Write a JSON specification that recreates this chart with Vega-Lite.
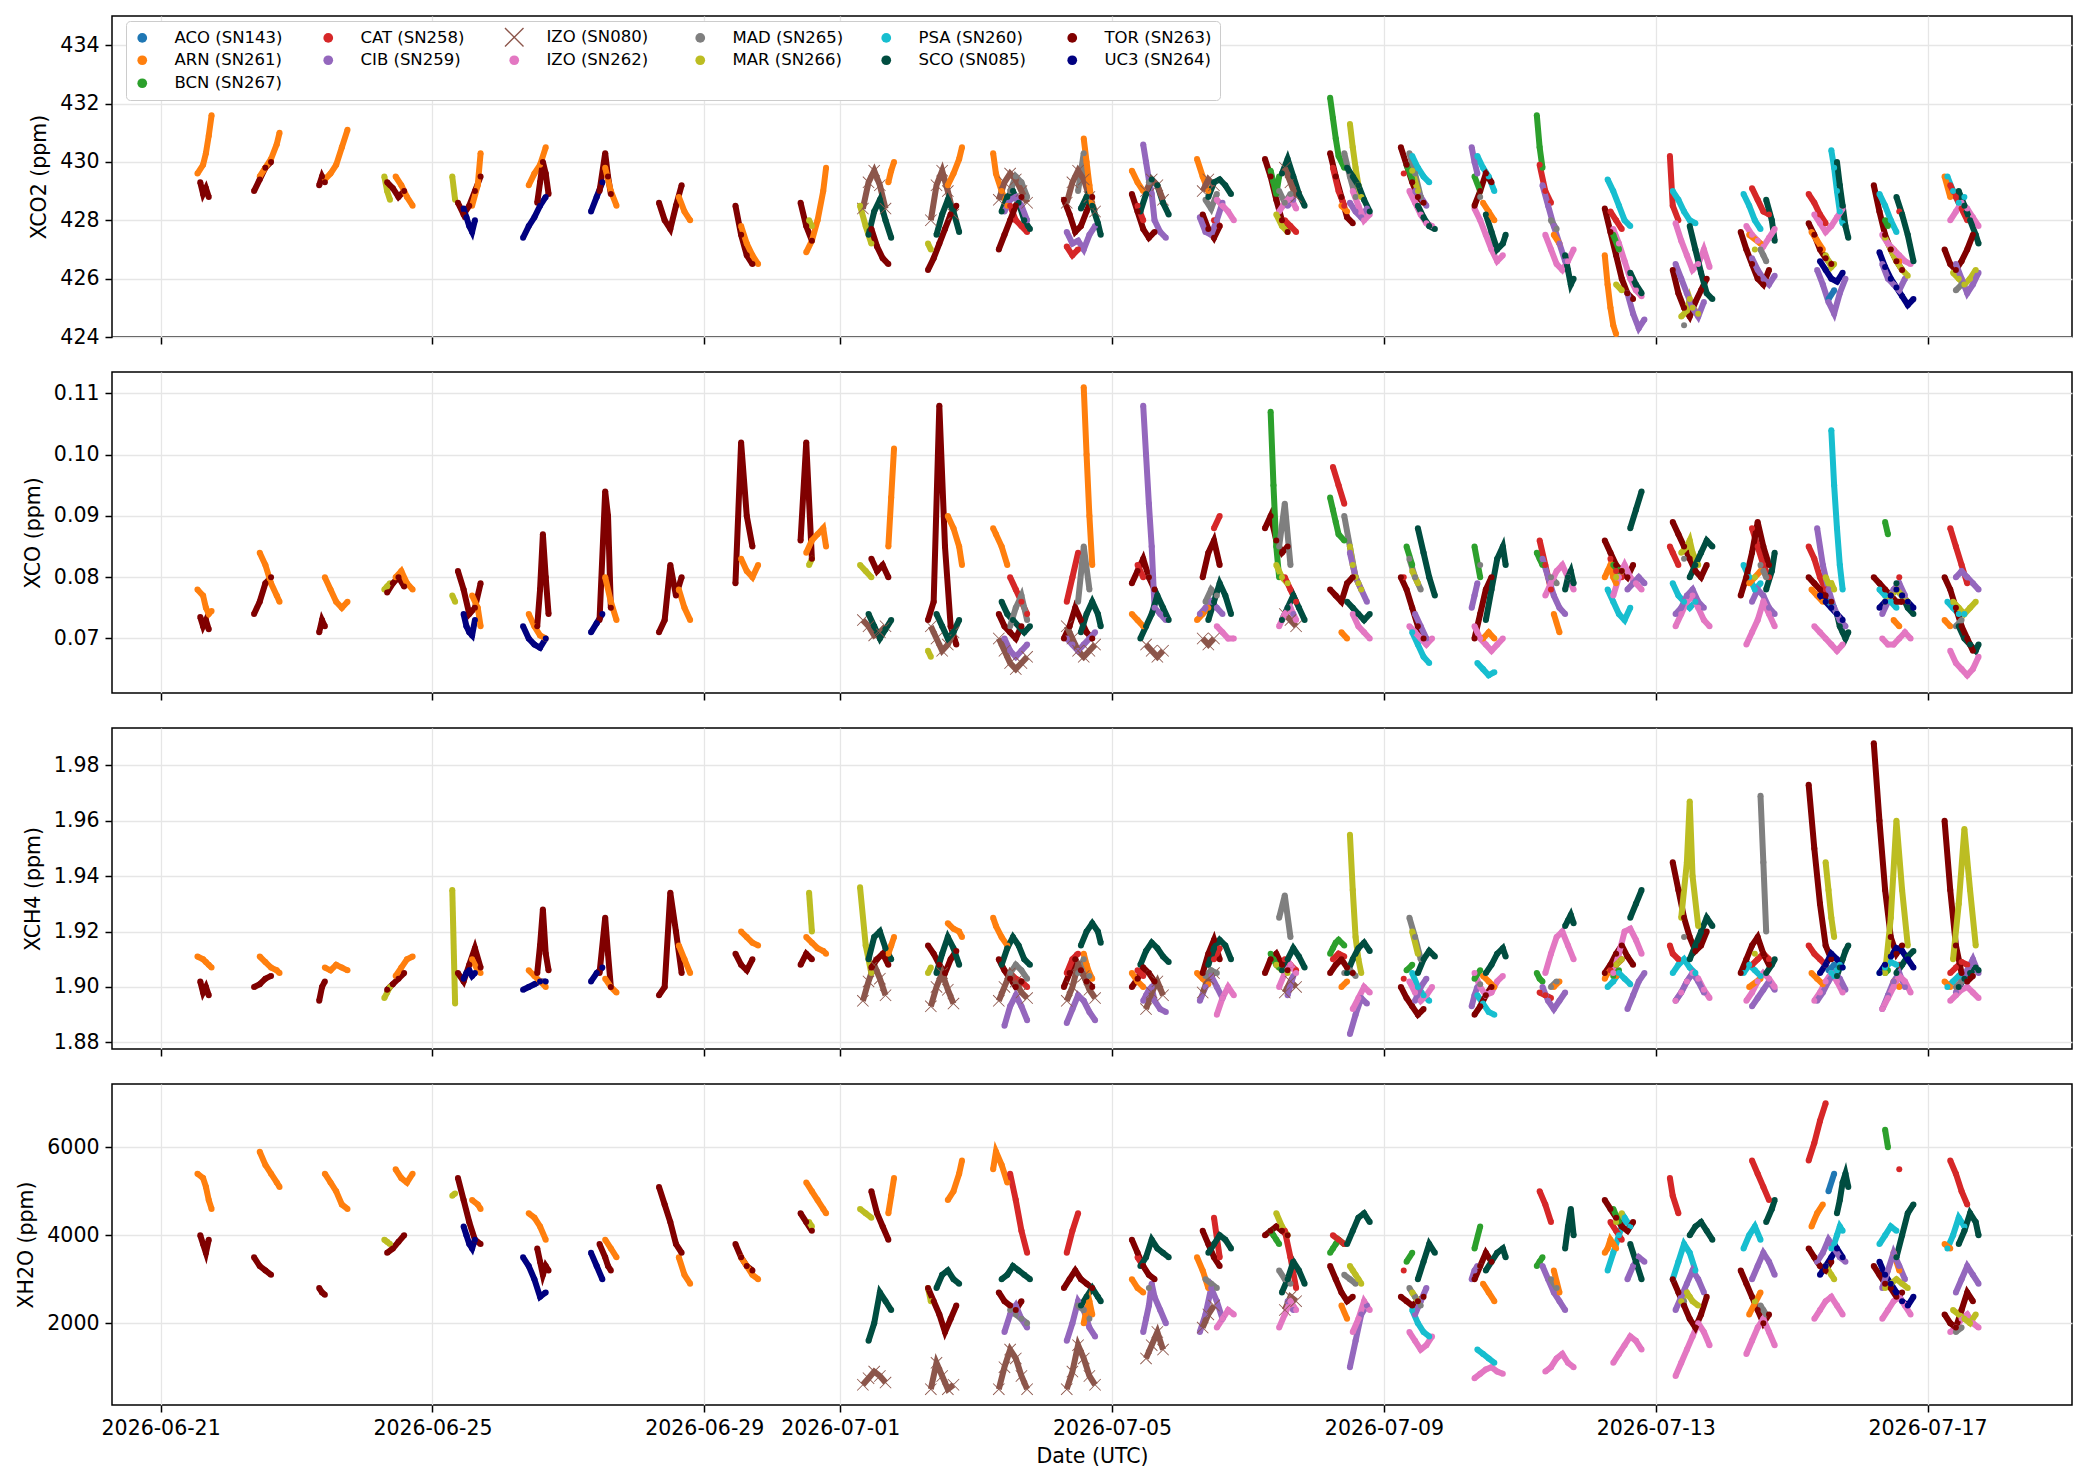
{
  "$schema": "https://vega.github.io/schema/vega-lite/v6.json",
  "background": "white",
  "padding": {"left": 16, "top": 15, "right": 15, "bottom": 8},
  "data": {
    "values": "t,s,a,b,c,h\n26062114,TOR,429.3,.0735,1.902,4000\n26062115,TOR,428.9,.072,1.898,3800\n26062116,TOR,429.1,.073,1.900,3600\n26062117,TOR,428.8,.0715,1.897,3900\n26062113,ARN,429.6,.078,1.911,5400\n26062115,ARN,429.9,.077,1.910,5300\n26062116,ARN,430.3,.075,1.909,5100\n26062117,ARN,430.9,.074,1.908,4800\n26062118,ARN,431.6,.0745,1.907,4600\n26062209,TOR,429.0,.074,1.900,3500\n26062211,TOR,429.4,.076,1.901,3300\n26062213,TOR,429.8,.079,1.903,3200\n26062215,TOR,430.0,.080,1.904,3100\n26062211,ARN,429.5,.084,1.911,5900\n26062213,ARN,429.8,.082,1.909,5600\n26062215,ARN,430.1,.079,1.907,5400\n26062217,ARN,430.6,.077,1.906,5200\n26062218,ARN,431.0,.076,1.905,5100\n26062308,TOR,429.2,.071,1.895,2800\n26062309,TOR,429.5,.073,1.900,2700\n26062310,TOR,429.3,.072,1.902,2650\n26062310,ARN,429.4,.080,1.907,5400\n26062312,ARN,429.6,.078,1.906,5200\n26062314,ARN,429.9,.076,1.908,5000\n26062316,ARN,430.5,.075,1.907,4700\n26062318,ARN,431.1,.076,1.906,4600\n26062407,MAR,429.5,.078,1.896,3900\n26062408,MAR,429.0,.0785,1.898,3850\n26062409,MAR,428.7,.079,1.900,3800\n26062408,TOR,429.3,.0775,1.899,3600\n26062410,TOR,429.1,.079,1.901,3700\n26062412,TOR,428.8,.080,1.903,3850\n26062414,TOR,429.0,.0785,1.905,4000\n26062411,ARN,429.5,.080,1.904,5500\n26062413,ARN,429.2,.081,1.907,5300\n26062415,ARN,428.8,.079,1.910,5200\n26062417,ARN,428.5,.078,1.911,5400\n26062507,MAR,429.5,.077,1.935,4900\n26062508,MAR,428.7,.076,1.894,4950\n26062509,TOR,428.6,.081,1.905,5300\n26062511,TOR,428.2,.078,1.902,4800\n26062513,TOR,428.5,.074,1.908,4300\n26062515,TOR,429.0,.075,1.914,3900\n26062517,TOR,429.5,.079,1.907,3800\n26062511,UC3,428.4,.074,1.903,4200\n26062512,UC3,428.1,.072,1.905,4000\n26062513,UC3,427.8,.071,1.906,3800\n26062514,UC3,427.6,.0705,1.904,3700\n26062515,UC3,428.0,.073,1.905,3900\n26062514,ARN,428.5,.077,1.910,4800\n26062516,ARN,429.2,.075,1.906,4700\n26062517,ARN,430.3,.072,1.905,4600\n26062608,UC3,427.4,.072,1.899,3500\n26062610,UC3,427.8,.070,1.900,3300\n26062612,UC3,428.1,.069,1.901,3000\n26062614,UC3,428.5,.0685,1.902,2600\n26062616,UC3,428.8,.070,1.902,2700\n26062610,ARN,429.2,.074,1.906,4500\n26062612,ARN,429.6,.072,1.904,4400\n26062614,ARN,429.9,.0705,1.902,4200\n26062616,ARN,430.5,.070,1.900,3900\n26062613,TOR,428.6,.072,1.905,3700\n26062614,TOR,429.3,.078,1.915,3400\n26062615,TOR,430.0,.087,1.928,3100\n26062616,TOR,429.6,.080,1.912,3300\n26062617,TOR,428.9,.074,1.906,3200\n26062708,UC3,428.3,.071,1.902,3600\n26062710,UC3,428.8,.0725,1.905,3300\n26062712,UC3,429.3,.074,1.907,3000\n26062711,TOR,429.0,.073,1.905,3800\n26062713,TOR,430.3,.094,1.925,3500\n26062714,TOR,429.5,.090,1.912,3300\n26062715,TOR,428.9,.075,1.900,3200\n26062713,ARN,429.8,.080,1.903,3900\n26062715,ARN,429.0,.076,1.900,3700\n26062717,ARN,428.5,.073,1.898,3500\n26062808,TOR,428.6,.071,1.897,5100\n26062810,TOR,428.0,.073,1.900,4700\n26062812,TOR,427.7,.082,1.934,4300\n26062814,TOR,428.5,.077,1.920,3800\n26062816,TOR,429.2,.080,1.905,3600\n26062815,ARN,428.8,.078,1.915,3500\n26062817,ARN,428.3,.075,1.910,3100\n26062819,ARN,428.0,.073,1.905,2900\n26062911,TOR,428.5,.079,1.912,3800\n26062913,TOR,427.5,.102,1.908,3500\n26062915,TOR,426.8,.090,1.906,3300\n26062917,TOR,426.5,.085,1.910,3200\n26062913,ARN,427.8,.083,1.920,3500\n26062915,ARN,427.2,.081,1.918,3300\n26062917,ARN,426.8,.080,1.916,3100\n26062919,ARN,426.5,.082,1.915,3000\n26063010,TOR,428.6,.086,1.908,4500\n26063012,TOR,427.8,.102,1.912,4300\n26063014,TOR,427.3,.083,1.910,4100\n26063013,MAR,428.0,.082,1.934,4300\n26063014,MAR,427.8,.083,1.920,4200\n26063012,ARN,426.9,.084,1.918,5200\n26063014,ARN,427.3,.086,1.916,5000\n26063016,ARN,428.0,.087,1.914,4800\n26063018,ARN,429.0,.088,1.913,4600\n26063019,ARN,429.8,.085,1.912,4500\n26070107,MAR,428.5,.082,1.936,4600\n26070109,MAR,427.8,.081,1.915,4500\n26070111,MAR,427.2,.080,1.905,4400\n26070108,IZ8,428.4,.073,1.895,600\n26070110,IZ8,429.3,.072,1.902,750\n26070112,IZ8,429.7,.0705,1.908,900\n26070114,IZ8,429.2,.071,1.903,800\n26070116,IZ8,428.4,.072,1.897,650\n26070110,SCO,427.5,.074,1.910,1600\n26070112,SCO,428.3,.072,1.918,2000\n26070114,SCO,428.7,.070,1.920,2700\n26070116,SCO,428.0,.0715,1.914,2500\n26070118,SCO,427.4,.073,1.910,2300\n26070111,TOR,427.7,.083,1.907,5000\n26070113,TOR,427.1,.081,1.910,4500\n26070115,TOR,426.7,.082,1.912,4200\n26070117,TOR,426.5,.080,1.908,3900\n26070117,ARN,429.3,.085,1.912,4500\n26070118,ARN,429.7,.093,1.915,4900\n26070119,ARN,430.0,.101,1.918,5300\n26070207,MAR,427.2,.068,1.905,2800\n26070208,MAR,427.0,.067,1.907,2500\n26070207,TOR,426.3,.073,1.915,2800\n26070209,TOR,426.7,.076,1.912,2500\n26070211,TOR,427.2,.108,1.908,2200\n26070213,TOR,427.7,.085,1.905,1800\n26070215,TOR,428.2,.072,1.910,2100\n26070217,TOR,428.5,.069,1.913,2400\n26070208,IZ8,428.0,.072,1.893,500\n26070210,IZ8,429.2,.070,1.900,1100\n26070212,IZ8,429.7,.068,1.905,800\n26070214,IZ8,429.0,.069,1.899,500\n26070216,IZ8,428.2,.071,1.894,600\n26070210,SCO,427.5,.074,1.905,2800\n26070212,SCO,428.2,.072,1.912,3100\n26070214,SCO,428.7,.070,1.918,3200\n26070216,SCO,428.3,.071,1.914,3000\n26070218,SCO,427.6,.073,1.908,2900\n26070214,ARN,429.2,.090,1.923,4800\n26070216,ARN,429.6,.088,1.921,5000\n26070218,ARN,430.1,.085,1.920,5400\n26070219,ARN,430.5,.082,1.918,5700\n26070306,ARN,430.3,.088,1.925,5500\n26070307,ARN,429.6,.087,1.922,5900\n26070309,ARN,429.0,.085,1.918,5600\n26070311,ARN,428.5,.082,1.915,5200\n26070312,CAT,428.5,.080,1.905,5400\n26070314,CAT,428.0,.078,1.903,4800\n26070316,CAT,427.8,.076,1.902,4100\n26070318,CAT,427.6,.074,1.900,3600\n26070308,TOR,427.0,.074,1.910,2700\n26070310,TOR,427.5,.072,1.906,2500\n26070312,TOR,428.0,.071,1.903,2400\n26070314,TOR,428.5,.070,1.900,2300\n26070316,TOR,428.8,.072,1.902,2500\n26070309,SCO,428.3,.076,1.908,3000\n26070311,SCO,428.8,.074,1.914,3100\n26070313,SCO,429.0,.073,1.918,3300\n26070315,SCO,428.6,.072,1.915,3200\n26070317,SCO,428.0,.071,1.910,3100\n26070319,SCO,427.7,.072,1.908,3000\n26070312,MAD,429.0,.072,1.905,2300\n26070314,MAD,429.5,.075,1.908,2200\n26070316,MAD,429.3,.077,1.906,2100\n26070318,MAD,428.8,.073,1.903,2000\n26070310,CIB,428.3,.070,1.886,1800\n26070312,CIB,428.7,.068,1.893,2200\n26070314,CIB,428.8,.067,1.897,2400\n26070316,CIB,428.5,.068,1.893,2100\n26070318,CIB,428.0,.069,1.888,1900\n26070308,IZ8,428.7,.070,1.895,500\n26070310,IZ8,429.3,.068,1.900,1000\n26070312,IZ8,429.6,.066,1.905,1400\n26070314,IZ8,429.4,.065,1.902,1200\n26070316,IZ8,429.0,.066,1.898,800\n26070318,IZ8,428.6,.067,1.896,500\n26070407,TOR,428.7,.070,1.900,2800\n26070409,TOR,428.2,.072,1.905,3000\n26070411,TOR,427.6,.075,1.910,3200\n26070413,TOR,427.8,.073,1.906,3000\n26070415,TOR,428.3,.071,1.902,2900\n26070417,TOR,428.8,.070,1.900,2800\n26070408,CIB,427.6,.070,1.887,1600\n26070410,CIB,427.2,.069,1.892,2000\n26070412,CIB,427.3,.068,1.897,2500\n26070414,CIB,427.0,.069,1.895,2300\n26070416,CIB,427.5,.070,1.891,1900\n26070418,CIB,427.8,.071,1.888,1700\n26070408,CAT,427.1,.076,1.905,3600\n26070410,CAT,426.8,.080,1.910,4100\n26070412,CAT,427.0,.084,1.912,4500\n26070412,MAD,429.0,.076,1.905,2400\n26070414,MAD,430.3,.085,1.910,2300\n26070416,MAD,428.8,.078,1.904,2100\n26070408,IZ8,428.6,.072,1.895,500\n26070410,IZ8,429.3,.070,1.900,900\n26070412,IZ8,429.7,.068,1.908,1500\n26070414,IZ8,429.4,.067,1.904,1200\n26070416,IZ8,428.8,.068,1.899,800\n26070418,IZ8,428.3,.069,1.896,600\n26070413,SCO,428.4,.071,1.915,2400\n26070415,SCO,428.8,.074,1.920,2600\n26070417,SCO,428.5,.076,1.923,2800\n26070419,SCO,427.9,.074,1.920,2600\n26070420,SCO,427.5,.072,1.916,2500\n26070414,ARN,430.8,.111,1.912,2000\n26070415,ARN,430.0,.100,1.908,2300\n26070416,ARN,429.2,.090,1.905,2500\n26070417,ARN,428.5,.082,1.903,2200\n26070507,TOR,428.9,.079,1.900,3900\n26070509,TOR,428.3,.081,1.903,3600\n26070511,TOR,427.7,.083,1.907,3300\n26070513,TOR,427.4,.080,1.905,3100\n26070515,TOR,427.6,.078,1.902,3000\n26070507,ARN,429.7,.074,1.905,3000\n26070509,ARN,429.3,.073,1.902,2800\n26070511,ARN,429.0,.072,1.900,2700\n26070509,CAT,428.5,.082,1.906,3500\n26070511,CAT,428.0,.080,1.904,3300\n26070511,CIB,430.6,.108,1.895,1800\n26070512,CIB,430.0,.100,1.897,2100\n26070513,CIB,429.4,.092,1.899,2400\n26070514,CIB,428.9,.085,1.900,2900\n26070515,CIB,428.0,.075,1.895,2600\n26070517,CIB,427.6,.074,1.892,2300\n26070519,CIB,427.4,.073,1.891,2000\n26070510,SCO,428.3,.070,1.908,3300\n26070512,SCO,428.9,.072,1.913,3500\n26070514,SCO,429.4,.074,1.916,3900\n26070516,SCO,429.2,.077,1.914,3700\n26070518,SCO,428.6,.075,1.911,3600\n26070520,SCO,428.2,.073,1.909,3500\n26070512,IZ8,429.0,.069,1.892,1200\n26070514,IZ8,429.4,.068,1.898,1500\n26070516,IZ8,429.2,.067,1.902,1800\n26070518,IZ8,428.7,.068,1.897,1400\n26070513,MAD,429.3,.080,1.905,2800\n26070606,ARN,430.1,.073,1.905,3500\n26070608,ARN,429.5,.074,1.903,3200\n26070610,ARN,429.0,.075,1.901,2800\n26070608,TOR,428.2,.080,1.905,4100\n26070610,TOR,427.7,.084,1.912,3800\n26070612,TOR,427.4,.086,1.917,3500\n26070614,TOR,427.8,.082,1.910,3300\n26070612,CAT,428.0,.088,1.910,4400\n26070614,CAT,427.8,.090,1.914,3500\n26070609,MAD,428.7,.076,1.904,3000\n26070611,MAD,428.4,.078,1.906,2900\n26070613,MAD,428.9,.077,1.905,2800\n26070607,CIB,428.1,.074,1.895,1800\n26070609,CIB,427.6,.075,1.900,2200\n26070611,CIB,427.5,.076,1.904,2800\n26070613,CIB,428.0,.075,1.900,2500\n26070615,CIB,428.6,.074,1.896,2100\n26070610,SCO,428.8,.073,1.908,3600\n26070612,SCO,429.3,.076,1.914,3800\n26070614,SCO,429.4,.079,1.917,4000\n26070616,SCO,429.2,.077,1.915,3900\n26070618,SCO,428.9,.074,1.910,3700\n26070613,IZO,428.7,.072,1.890,1900\n26070615,IZO,428.5,.071,1.896,2100\n26070617,IZO,428.3,.070,1.900,2300\n26070619,IZO,428.0,.070,1.897,2200\n26070608,IZ8,429.0,.070,1.898,1900\n26070610,IZ8,429.4,.069,1.903,2200\n26070612,IZ8,429.2,.070,1.905,2400\n26070706,TOR,430.1,.088,1.905,4000\n26070708,TOR,429.5,.090,1.910,4100\n26070710,TOR,428.7,.086,1.912,4200\n26070712,TOR,428.0,.084,1.908,4100\n26070714,TOR,427.6,.085,1.906,4000\n26070708,BCN,429.7,.107,1.912,4100\n26070709,BCN,429.3,.095,1.910,4000\n26070710,BCN,428.9,.085,1.908,3900\n26070711,BCN,429.5,.080,1.907,3800\n26070710,MAR,428.2,.082,1.908,4500\n26070712,MAR,427.8,.080,1.906,4200\n26070714,MAR,427.6,.079,1.905,4000\n26070713,CAT,428.0,.080,1.910,4100\n26070715,CAT,427.8,.078,1.908,3500\n26070717,CAT,427.6,.076,1.906,2800\n26070711,MAD,429.0,.085,1.925,3200\n26070713,MAD,428.6,.092,1.933,3000\n26070715,MAD,428.9,.082,1.918,2900\n26070712,SCO,429.6,.073,1.906,2700\n26070714,SCO,430.1,.075,1.910,3000\n26070716,SCO,429.5,.077,1.914,3400\n26070718,SCO,428.9,.075,1.911,3200\n26070720,SCO,428.5,.073,1.907,2900\n26070713,IZ8,429.8,.074,1.898,2300\n26070715,IZ8,429.3,.073,1.902,2600\n26070717,IZ8,428.8,.072,1.900,2500\n26070714,CIB,428.5,.075,1.897,2500\n26070716,CIB,428.7,.074,1.904,2300\n26070711,IZO,428.3,.072,1.900,1900\n26070713,IZO,428.6,.074,1.905,2200\n26070715,IZO,428.8,.075,1.908,2500\n26070717,IZO,428.4,.073,1.905,2300\n26070805,BCN,432.2,.093,1.912,3600\n26070806,BCN,431.5,.091,1.914,3700\n26070807,BCN,430.8,.089,1.916,3800\n26070808,BCN,430.2,.087,1.917,3900\n26070810,BCN,429.8,.086,1.915,3800\n26070805,TOR,430.3,.078,1.905,3300\n26070807,TOR,429.5,.077,1.908,3000\n26070809,TOR,428.8,.076,1.910,2700\n26070811,TOR,428.1,.079,1.907,2500\n26070813,TOR,427.9,.080,1.905,2600\n26070806,CAT,429.8,.098,1.910,4000\n26070808,CAT,429.0,.095,1.912,3900\n26070810,CAT,428.5,.092,1.911,3800\n26070810,MAD,430.3,.090,1.905,3100\n26070812,MAD,429.5,.085,1.906,3000\n26070814,MAD,428.8,.080,1.904,2900\n26070812,MAR,431.3,.085,1.955,3300\n26070813,MAR,430.5,.082,1.935,3200\n26070814,MAR,429.8,.080,1.918,3100\n26070815,MAR,429.2,.079,1.910,3000\n26070816,MAR,428.8,.078,1.905,2900\n26070811,SCO,429.8,.076,1.905,3800\n26070813,SCO,429.5,.075,1.910,4100\n26070815,SCO,429.2,.074,1.914,4400\n26070817,SCO,428.7,.073,1.916,4500\n26070819,SCO,428.3,.074,1.913,4300\n26070812,CIB,428.6,.084,1.883,1000\n26070814,CIB,428.3,.080,1.890,1600\n26070816,CIB,428.1,.078,1.896,2200\n26070818,CIB,428.4,.076,1.894,2400\n26070813,IZO,429.0,.074,1.892,1800\n26070815,IZO,428.5,.072,1.896,2100\n26070817,IZO,428.0,.071,1.900,2500\n26070819,IZO,428.2,.070,1.898,2300\n26070809,ARN,428.5,.071,1.900,2400\n26070811,ARN,428.3,.070,1.902,2100\n26070906,TOR,430.5,.080,1.900,2600\n26070908,TOR,429.9,.078,1.896,2500\n26070910,TOR,429.3,.075,1.893,2400\n26070912,TOR,428.8,.072,1.890,2500\n26070914,TOR,428.6,.070,1.892,2600\n26070909,MAD,430.3,.083,1.925,2800\n26070911,MAD,429.6,.080,1.918,2600\n26070913,MAD,428.8,.078,1.910,2400\n26070910,MAR,429.7,.081,1.920,2700\n26070912,MAR,429.0,.079,1.912,2500\n26070910,PSA,430.2,.071,1.905,2300\n26070912,PSA,429.8,.069,1.900,2000\n26070914,PSA,429.5,.067,1.897,1800\n26070916,PSA,429.3,.066,1.895,1700\n26070909,IZO,429.0,.072,1.902,1800\n26070911,IZO,428.6,.071,1.898,1600\n26070913,IZO,428.2,.070,1.895,1400\n26070915,IZO,427.9,.069,1.897,1500\n26070917,IZO,427.8,.070,1.900,1700\n26070912,SCO,428.5,.088,1.905,3000\n26070914,SCO,428.1,.084,1.910,3400\n26070916,SCO,427.8,.080,1.913,3800\n26070918,SCO,427.7,.077,1.911,3600\n26070908,BCN,429.9,.085,1.906,3400\n26070910,BCN,429.4,.082,1.908,3600\n26070911,CIB,429.0,.074,1.895,2200\n26070913,CIB,428.8,.072,1.900,2500\n26070915,CIB,428.5,.070,1.903,2800\n26070907,CAT,429.6,.080,1.903,3200\n26071007,CIB,430.5,.075,1.893,3000\n26071008,CIB,430.0,.077,1.897,3200\n26071009,CIB,429.6,.079,1.900,3300\n26071009,PSA,430.2,.066,1.897,1400\n26071011,PSA,429.8,.065,1.894,1300\n26071013,PSA,429.5,.064,1.891,1200\n26071015,PSA,429.0,.0645,1.890,1100\n26071008,TOR,428.5,.070,1.890,3000\n26071010,TOR,429.0,.074,1.893,3300\n26071012,TOR,429.6,.078,1.897,3600\n26071014,TOR,429.3,.080,1.900,3400\n26071008,IZO,428.4,.072,1.905,750\n26071010,IZO,428.0,.070,1.900,850\n26071012,IZO,427.5,.069,1.897,950\n26071014,IZO,427.0,.068,1.898,1000\n26071016,IZO,426.6,.069,1.902,900\n26071018,IZO,426.8,.070,1.904,850\n26071012,SCO,428.2,.073,1.905,3200\n26071014,SCO,427.6,.078,1.908,3400\n26071016,SCO,427.0,.083,1.912,3600\n26071018,SCO,427.2,.085,1.914,3700\n26071019,SCO,427.5,.082,1.911,3500\n26071008,BCN,429.5,.085,1.903,3700\n26071010,BCN,429.0,.080,1.906,4200\n26071011,ARN,428.6,.070,1.904,2900\n26071013,ARN,428.3,.071,1.902,2700\n26071015,ARN,428.0,.070,1.900,2500\n26071010,MAD,428.8,.082,1.901,3300\n26071106,BCN,431.6,.084,1.905,3300\n26071107,BCN,430.5,.083,1.903,3400\n26071108,BCN,429.8,.082,1.902,3500\n26071107,CAT,429.9,.086,1.898,5000\n26071109,CAT,429.0,.082,1.897,4700\n26071111,CAT,428.6,.078,1.896,4300\n26071108,CIB,429.2,.083,1.900,3300\n26071110,CIB,428.5,.080,1.895,3000\n26071112,CIB,427.8,.077,1.892,2700\n26071114,CIB,427.2,.075,1.895,2500\n26071116,CIB,426.6,.074,1.898,2300\n26071111,MAD,428.0,.080,1.900,3000\n26071113,MAD,427.7,.079,1.902,2800\n26071112,ARN,427.5,.074,1.900,3200\n26071114,ARN,427.2,.071,1.902,2700\n26071109,IZO,427.5,.077,1.905,900\n26071111,IZO,427.0,.079,1.912,1000\n26071113,IZO,426.5,.081,1.918,1200\n26071115,IZO,426.3,.082,1.920,1300\n26071117,IZO,426.6,.080,1.915,1100\n26071119,IZO,427.0,.078,1.910,1000\n26071116,SCO,426.8,.078,1.922,3700\n26071117,SCO,426.3,.080,1.924,4200\n26071118,SCO,425.8,.081,1.926,4600\n26071119,SCO,426.0,.079,1.923,4000\n26071207,PSA,429.4,.078,1.900,3200\n26071209,PSA,429.0,.076,1.902,3600\n26071211,PSA,428.5,.074,1.905,4000\n26071213,PSA,428.0,.073,1.903,4400\n26071215,PSA,427.8,.075,1.901,4200\n26071208,CAT,428.3,.083,1.906,4300\n26071210,CAT,428.0,.081,1.908,4100\n26071212,CAT,427.7,.080,1.910,3900\n26071206,TOR,428.4,.086,1.905,4800\n26071208,TOR,427.6,.084,1.908,4600\n26071210,TOR,426.8,.082,1.912,4400\n26071212,TOR,426.0,.081,1.915,4200\n26071214,TOR,425.5,.080,1.911,4100\n26071216,TOR,425.3,.082,1.908,4300\n26071206,ARN,426.8,.080,1.903,3600\n26071207,ARN,425.8,.081,1.905,3700\n26071208,ARN,425.0,.082,1.906,3900\n26071209,ARN,424.4,.080,1.905,3800\n26071210,ARN,424.1,.079,1.904,3700\n26071209,IZO,427.7,.077,1.905,1100\n26071211,IZO,427.2,.080,1.912,1300\n26071213,IZO,426.6,.082,1.920,1500\n26071215,IZO,426.0,.080,1.921,1700\n26071217,IZO,425.6,.079,1.917,1600\n26071219,IZO,425.4,.078,1.912,1400\n26071214,CIB,425.5,.078,1.892,3000\n26071216,CIB,424.8,.079,1.897,3300\n26071218,CIB,424.3,.080,1.902,3500\n26071220,CIB,424.6,.079,1.905,3400\n26071215,SCO,426.2,.088,1.925,3800\n26071217,SCO,425.8,.091,1.930,3400\n26071219,SCO,425.5,.094,1.935,3000\n26071210,MAR,425.8,.080,1.908,4300\n26071212,MAR,425.6,.081,1.910,4500\n26071209,BCN,427.5,.082,1.904,4600\n26071211,BCN,427.0,.081,1.906,4300\n26071305,CAT,430.2,.085,1.915,5300\n26071306,CAT,428.5,.084,1.912,4900\n26071308,CAT,428.0,.082,1.910,4500\n26071306,PSA,429.0,.079,1.905,3000\n26071308,PSA,428.7,.077,1.908,3400\n26071310,PSA,428.3,.076,1.910,3800\n26071312,PSA,428.0,.075,1.907,3600\n26071314,PSA,427.9,.076,1.905,3200\n26071307,IZO,427.9,.072,1.895,800\n26071309,IZO,427.3,.074,1.898,1100\n26071311,IZO,426.8,.076,1.902,1400\n26071313,IZO,426.3,.077,1.905,1700\n26071315,IZO,426.5,.075,1.903,2000\n26071317,IZO,427.0,.073,1.899,1800\n26071319,IZO,426.4,.072,1.896,1500\n26071306,TOR,426.3,.089,1.945,3000\n26071308,TOR,425.5,.087,1.935,2700\n26071310,TOR,425.0,.085,1.925,2400\n26071312,TOR,424.7,.083,1.918,2100\n26071314,TOR,425.2,.081,1.913,1900\n26071316,TOR,425.6,.080,1.915,2200\n26071318,TOR,426.0,.082,1.920,2600\n26071309,MAR,424.7,.084,1.925,2500\n26071311,MAR,424.9,.085,1.945,2700\n26071312,MAR,425.3,.086,1.967,2600\n26071313,MAR,425.0,.084,1.940,2500\n26071315,MAR,424.8,.082,1.922,2400\n26071312,SCO,427.8,.080,1.910,4000\n26071314,SCO,427.0,.082,1.915,4200\n26071316,SCO,426.2,.084,1.920,4300\n26071318,SCO,425.5,.086,1.925,4100\n26071320,SCO,425.3,.085,1.922,3900\n26071307,CIB,426.5,.074,1.895,2300\n26071309,CIB,426.0,.075,1.898,2600\n26071311,CIB,425.5,.077,1.902,2900\n26071313,CIB,425.0,.078,1.905,3200\n26071315,CIB,424.7,.076,1.902,3000\n26071317,CIB,425.2,.075,1.898,2700\n26071310,MAD,424.4,.083,1.918,2500\n26071407,PSA,428.9,.082,1.905,3700\n26071409,PSA,428.5,.080,1.908,4000\n26071411,PSA,428.0,.078,1.906,4200\n26071413,PSA,427.7,.079,1.904,3900\n26071410,CAT,429.1,.088,1.908,5700\n26071412,CAT,428.7,.085,1.910,5400\n26071414,CAT,428.3,.082,1.912,5100\n26071416,CAT,428.2,.080,1.910,4800\n26071406,TOR,427.6,.077,1.905,3200\n26071408,TOR,427.0,.080,1.910,2900\n26071410,TOR,426.5,.084,1.915,2600\n26071412,TOR,426.0,.089,1.918,2300\n26071414,TOR,425.8,.085,1.912,2000\n26071416,TOR,426.3,.082,1.908,2200\n26071410,CIB,426.7,.076,1.893,3000\n26071412,CIB,426.3,.078,1.896,3300\n26071414,CIB,426.0,.077,1.899,3600\n26071416,CIB,425.8,.075,1.902,3400\n26071418,CIB,426.1,.074,1.899,3100\n26071415,SCO,428.7,.078,1.905,4300\n26071417,SCO,428.0,.081,1.908,4600\n26071418,SCO,427.3,.084,1.910,4800\n26071408,IZO,427.8,.069,1.895,1300\n26071410,IZO,427.5,.071,1.898,1600\n26071412,IZO,427.3,.073,1.902,1900\n26071414,IZO,427.1,.076,1.905,2100\n26071416,IZO,427.4,.074,1.903,1800\n26071418,IZO,427.7,.072,1.900,1500\n26071411,MAR,427.0,.080,1.912,2500\n26071409,ARN,427.5,.079,1.900,2200\n26071413,ARN,427.2,.081,1.903,2700\n26071413,MAD,427.0,.082,1.969,2400\n26071414,MAD,426.8,.081,1.945,2300\n26071415,MAD,426.6,.080,1.920,2200\n26071514,PSA,430.4,.104,1.905,3700\n26071515,PSA,429.8,.095,1.904,3800\n26071516,PSA,429.0,.088,1.906,4000\n26071517,PSA,428.3,.082,1.908,4200\n26071518,PSA,427.9,.078,1.907,4100\n26071516,SCO,430.0,.074,1.904,4500\n26071517,SCO,429.2,.072,1.907,4800\n26071518,SCO,428.5,.071,1.910,5200\n26071519,SCO,427.8,.070,1.913,5400\n26071520,SCO,427.4,.071,1.915,5100\n26071506,CAT,428.9,.085,1.915,5700\n26071508,CAT,428.6,.083,1.912,6100\n26071510,CAT,428.2,.080,1.910,6600\n26071512,CAT,427.9,.078,1.908,7000\n26071508,IZO,428.2,.072,1.895,2100\n26071510,IZO,427.9,.071,1.898,2300\n26071512,IZO,427.6,.070,1.902,2500\n26071514,IZO,427.8,.069,1.905,2600\n26071516,IZO,428.1,.068,1.902,2400\n26071518,IZO,428.4,.069,1.898,2200\n26071506,TOR,427.9,.080,1.973,3700\n26071508,TOR,427.5,.079,1.950,3500\n26071510,TOR,427.0,.078,1.930,3300\n26071512,TOR,426.7,.077,1.915,3200\n26071514,TOR,426.5,.076,1.910,3400\n26071507,ARN,427.6,.078,1.905,4200\n26071509,ARN,427.3,.077,1.903,4500\n26071511,ARN,427.0,.076,1.901,4700\n26071510,UC3,426.6,.077,1.905,3100\n26071512,UC3,426.3,.076,1.908,3300\n26071514,UC3,426.0,.075,1.912,3500\n26071516,UC3,425.9,.074,1.910,3700\n26071518,UC3,426.2,.073,1.907,3500\n26071509,CIB,426.3,.088,1.895,3400\n26071511,CIB,425.8,.082,1.898,3600\n26071513,CIB,425.2,.078,1.902,3900\n26071515,CIB,424.8,.075,1.905,3700\n26071517,CIB,425.5,.073,1.903,3500\n26071519,CIB,426.0,.072,1.899,3400\n26071512,MAR,426.8,.080,1.945,3300\n26071513,MAR,426.6,.079,1.935,3200\n26071514,MAR,426.4,.079,1.925,3100\n26071515,MAR,426.5,.078,1.918,3000\n26071513,ACO,425.3,.076,1.906,5000\n26071515,ACO,425.6,.075,1.908,5400\n26071605,TOR,429.2,.080,1.988,3300\n26071607,TOR,428.3,.079,1.960,3100\n26071609,TOR,427.5,.078,1.935,2900\n26071611,TOR,427.0,.077,1.918,2800\n26071613,TOR,426.6,.076,1.912,2600\n26071615,TOR,426.3,.076,1.915,2700\n26071607,PSA,428.9,.078,1.905,3800\n26071609,PSA,428.5,.077,1.907,4000\n26071611,PSA,428.0,.076,1.909,4200\n26071613,PSA,427.6,.075,1.908,4100\n26071613,SCO,428.8,.079,1.905,3500\n26071615,SCO,428.2,.077,1.908,4000\n26071617,SCO,427.5,.075,1.911,4500\n26071619,SCO,426.6,.074,1.913,4700\n26071612,ARN,427.0,.073,1.902,3600\n26071614,ARN,426.6,.072,1.900,3200\n26071607,UC3,426.9,.075,1.905,3400\n26071609,UC3,426.4,.076,1.908,3100\n26071611,UC3,426.0,.077,1.911,2900\n26071613,UC3,425.7,.078,1.914,2700\n26071615,UC3,425.4,.077,1.913,2500\n26071617,UC3,425.1,.076,1.910,2400\n26071619,UC3,425.3,.075,1.907,2600\n26071608,CIB,426.5,.074,1.892,2800\n26071610,CIB,426.0,.076,1.897,3200\n26071612,CIB,425.8,.078,1.902,3600\n26071614,CIB,425.6,.079,1.905,3300\n26071616,CIB,426.0,.077,1.900,3000\n26071609,BCN,428.0,.089,1.905,6400\n26071610,BCN,427.8,.087,1.906,6000\n26071609,MAR,427.4,.076,1.905,2800\n26071611,MAR,427.0,.077,1.925,2900\n26071613,MAR,426.6,.078,1.960,3000\n26071615,MAR,426.3,.077,1.935,2900\n26071617,MAR,426.1,.076,1.915,2800\n26071608,IZO,427.5,.070,1.892,2100\n26071610,IZO,427.2,.069,1.896,2300\n26071612,IZO,427.0,.069,1.900,2500\n26071614,IZO,426.8,.070,1.904,2600\n26071616,IZO,426.6,.071,1.902,2400\n26071618,IZO,426.5,.070,1.898,2200\n26071614,CAT,428.3,.080,1.908,5500\n26071707,PSA,429.5,.076,1.900,3700\n26071709,PSA,429.0,.075,1.902,4000\n26071711,PSA,428.6,.074,1.904,4400\n26071713,PSA,428.8,.074,1.903,4200\n26071706,ARN,429.5,.073,1.902,3800\n26071708,ARN,428.8,.072,1.900,3700\n26071708,CAT,429.2,.088,1.905,5700\n26071710,CAT,428.8,.085,1.907,5400\n26071712,CAT,428.4,.082,1.909,5000\n26071714,CAT,428.0,.079,1.908,4700\n26071708,IZO,428.0,.068,1.895,1800\n26071710,IZO,428.3,.066,1.897,1900\n26071712,IZO,428.6,.065,1.899,2100\n26071714,IZO,428.4,.064,1.900,2200\n26071716,IZO,428.1,.065,1.898,2000\n26071718,IZO,427.8,.067,1.896,1900\n26071711,SCO,429.0,.072,1.900,3800\n26071713,SCO,428.5,.070,1.903,4100\n26071715,SCO,428.0,.069,1.905,4500\n26071717,SCO,427.5,.068,1.907,4300\n26071718,SCO,427.2,.069,1.906,4000\n26071706,TOR,427.0,.080,1.960,2200\n26071708,TOR,426.5,.078,1.935,2000\n26071710,TOR,426.3,.075,1.915,1900\n26071712,TOR,426.6,.072,1.905,2300\n26071714,TOR,427.0,.070,1.902,2700\n26071716,TOR,427.5,.068,1.904,2500\n26071709,MAR,426.2,.076,1.910,2300\n26071711,MAR,426.0,.075,1.930,2200\n26071713,MAR,425.8,.074,1.957,2100\n26071715,MAR,426.0,.075,1.935,2000\n26071717,MAR,426.3,.076,1.915,2200\n26071710,CIB,426.5,.080,1.898,2700\n26071712,CIB,426.0,.081,1.902,3000\n26071714,CIB,425.5,.080,1.906,3300\n26071716,CIB,425.8,.079,1.910,3100\n26071718,CIB,426.2,.078,1.905,2900\n26071710,MAD,425.6,.072,1.900,1800\n26071712,MAD,425.8,.073,1.902,1900",
    "format": {"type": "csv", "parse": {"t": "utc:'%y%m%d%H'", "a": "number", "b": "number", "c": "number", "h": "number"}}
  },
  "config": {
    "font": "DejaVu Sans",
    "view": {"stroke": "#000000", "strokeWidth": 1.5},
    "axis": {
      "labelFont": "DejaVu Sans", "labelFontSize": 20.5, "labelColor": "#000000",
      "titleFont": "DejaVu Sans", "titleFontSize": 20.5, "titleFontWeight": "normal", "titleColor": "#000000",
      "tickColor": "#000000", "tickSize": 7, "tickWidth": 1.5, "domain": false,
      "gridColor": "#e6e6e6", "gridWidth": 1.3, "labelPadding": 6, "titlePadding": 10,
      "labelFlush": false, "labelOverlap": false
    },
    "legend": {
      "labelFont": "DejaVu Sans", "labelFontSize": 16.5, "labelColor": "#000000", "labelLimit": 300,
      "symbolSize": 95, "symbolStrokeWidth": 0, "symbolOpacity": 1,
      "padding": 8, "strokeColor": "#cccccc", "fillColor": "#ffffff", "cornerRadius": 4,
      "rowPadding": 5, "columnPadding": 32, "labelOffset": 24, "gridAlign": "all"
    }
  },
  "spacing": 35,
  "bounds": "flush",
  "resolve": {
    "scale": {"y": "independent"},
    "axis": {"x": "independent", "y": "independent"}
  },
  "vconcat": [
    {
      "width": 1960, "height": 321,
      "encoding": {
        "x": {"field": "t", "type": "temporal",
          "scale": {"type": "utc", "domain": [{"year": 2026, "month": 6, "date": 20, "hours": 6, "minutes": 50, "utc": true}, {"year": 2026, "month": 7, "date": 19, "hours": 3, "utc": true}]},
          "axis": {"labels": false, "title": null, "values": [{"year": 2026, "month": 6, "date": 21, "utc": true}, {"year": 2026, "month": 6, "date": 25, "utc": true}, {"year": 2026, "month": 6, "date": 29, "utc": true}, {"year": 2026, "month": 7, "date": 1, "utc": true}, {"year": 2026, "month": 7, "date": 5, "utc": true}, {"year": 2026, "month": 7, "date": 9, "utc": true}, {"year": 2026, "month": 7, "date": 13, "utc": true}, {"year": 2026, "month": 7, "date": 17, "utc": true}]}},
        "y": {"field": "a", "type": "quantitative", "scale": {"domain": [424, 435], "nice": false, "zero": false},
          "axis": {"title": "XCO2 (ppm)", "values": [424, 426, 428, 430, 432, 434]}}
      },
      "layer": [
        {"mark": {"type": "line", "strokeWidth": 6, "clip": true},
          "encoding": {
            "stroke": {"field": "s", "type": "nominal", "legend": null,
              "scale": {"domain": ["ACO", "CAT", "IZ8", "MAD", "PSA", "TOR", "ARN", "CIB", "IZO", "MAR", "SCO", "UC3", "BCN", "ZZZ"],
                "range": ["#1f77b4", "#d62728", "#8c564b", "#7f7f7f", "#17becf", "#800000", "#ff7f0e", "#9467bd", "#e377c2", "#bcbd22", "#004d40", "#000080", "#2ca02c", "#000000"]}},
            "detail": {"field": "t", "timeUnit": "utcmonthdate", "type": "ordinal"}
          }},
        {"mark": {"type": "point", "filled": true, "size": 36, "opacity": 1, "clip": true},
          "encoding": {
            "color": {"field": "s", "type": "nominal",
              "scale": {"domain": ["ACO", "CAT", "IZ8", "MAD", "PSA", "TOR", "ARN", "CIB", "IZO", "MAR", "SCO", "UC3", "BCN"],
                "range": ["#1f77b4", "#d62728", "#8c564b", "#7f7f7f", "#17becf", "#800000", "#ff7f0e", "#9467bd", "#e377c2", "#bcbd22", "#004d40", "#000080", "#2ca02c"]},
              "legend": {"orient": "none", "legendX": 14, "legendY": 5, "columns": 6, "direction": "horizontal", "title": null,
                "labelExpr": "['ACO (SN143)','CAT (SN258)','IZO (SN080)','MAD (SN265)','PSA (SN260)','TOR (SN263)','ARN (SN261)','CIB (SN259)','IZO (SN262)','MAR (SN266)','SCO (SN085)','UC3 (SN264)','BCN (SN267)'][indexof(['ACO','CAT','IZ8','MAD','PSA','TOR','ARN','CIB','IZO','MAR','SCO','UC3','BCN'], datum.label)]"}},
            "shape": {"field": "s", "type": "nominal",
              "scale": {"domain": ["ACO", "CAT", "IZ8", "MAD", "PSA", "TOR", "ARN", "CIB", "IZO", "MAR", "SCO", "UC3", "BCN"],
                "range": ["circle", "circle", "M-2,-1.8L-1.8,-2L2,1.8L1.8,2Z M1.8,-2L2,-1.8L-1.8,2L-2,1.8Z", "circle", "circle", "circle", "circle", "circle", "circle", "circle", "circle", "circle", "circle"]},
              "legend": {"orient": "none", "legendX": 14, "legendY": 5, "columns": 6, "direction": "horizontal", "title": null,
                "labelExpr": "['ACO (SN143)','CAT (SN258)','IZO (SN080)','MAD (SN265)','PSA (SN260)','TOR (SN263)','ARN (SN261)','CIB (SN259)','IZO (SN262)','MAR (SN266)','SCO (SN085)','UC3 (SN264)','BCN (SN267)'][indexof(['ACO','CAT','IZ8','MAD','PSA','TOR','ARN','CIB','IZO','MAR','SCO','UC3','BCN'], datum.label)]"}},
            "order": {"field": "s", "type": "ordinal"}
          }}
      ]
    },
    {
      "width": 1960, "height": 321,
      "encoding": {
        "x": {"field": "t", "type": "temporal",
          "scale": {"type": "utc", "domain": [{"year": 2026, "month": 6, "date": 20, "hours": 6, "minutes": 50, "utc": true}, {"year": 2026, "month": 7, "date": 19, "hours": 3, "utc": true}]},
          "axis": {"labels": false, "title": null, "values": [{"year": 2026, "month": 6, "date": 21, "utc": true}, {"year": 2026, "month": 6, "date": 25, "utc": true}, {"year": 2026, "month": 6, "date": 29, "utc": true}, {"year": 2026, "month": 7, "date": 1, "utc": true}, {"year": 2026, "month": 7, "date": 5, "utc": true}, {"year": 2026, "month": 7, "date": 9, "utc": true}, {"year": 2026, "month": 7, "date": 13, "utc": true}, {"year": 2026, "month": 7, "date": 17, "utc": true}]}},
        "y": {"field": "b", "type": "quantitative", "scale": {"domain": [0.0611, 0.1135], "nice": false, "zero": false},
          "axis": {"title": "XCO (ppm)", "values": [0.07, 0.08, 0.09, 0.1, 0.11], "format": ".2f"}}
      },
      "layer": [
        {"mark": {"type": "line", "strokeWidth": 6, "clip": true},
          "encoding": {
            "stroke": {"field": "s", "type": "nominal", "legend": null,
              "scale": {"domain": ["ACO", "CAT", "IZ8", "MAD", "PSA", "TOR", "ARN", "CIB", "IZO", "MAR", "SCO", "UC3", "BCN", "ZZZ"],
                "range": ["#1f77b4", "#d62728", "#8c564b", "#7f7f7f", "#17becf", "#800000", "#ff7f0e", "#9467bd", "#e377c2", "#bcbd22", "#004d40", "#000080", "#2ca02c", "#000000"]}},
            "detail": {"field": "t", "timeUnit": "utcmonthdate", "type": "ordinal"}
          }},
        {"mark": {"type": "point", "filled": true, "size": 36, "opacity": 1, "clip": true},
          "encoding": {
            "color": {"field": "s", "type": "nominal",
              "scale": {"domain": ["ACO", "CAT", "IZ8", "MAD", "PSA", "TOR", "ARN", "CIB", "IZO", "MAR", "SCO", "UC3", "BCN"],
                "range": ["#1f77b4", "#d62728", "#8c564b", "#7f7f7f", "#17becf", "#800000", "#ff7f0e", "#9467bd", "#e377c2", "#bcbd22", "#004d40", "#000080", "#2ca02c"]},
              "legend": {"orient": "none", "legendX": 14, "legendY": 5, "columns": 6, "direction": "horizontal", "title": null,
                "labelExpr": "['ACO (SN143)','CAT (SN258)','IZO (SN080)','MAD (SN265)','PSA (SN260)','TOR (SN263)','ARN (SN261)','CIB (SN259)','IZO (SN262)','MAR (SN266)','SCO (SN085)','UC3 (SN264)','BCN (SN267)'][indexof(['ACO','CAT','IZ8','MAD','PSA','TOR','ARN','CIB','IZO','MAR','SCO','UC3','BCN'], datum.label)]"}},
            "shape": {"field": "s", "type": "nominal",
              "scale": {"domain": ["ACO", "CAT", "IZ8", "MAD", "PSA", "TOR", "ARN", "CIB", "IZO", "MAR", "SCO", "UC3", "BCN"],
                "range": ["circle", "circle", "M-2,-1.8L-1.8,-2L2,1.8L1.8,2Z M1.8,-2L2,-1.8L-1.8,2L-2,1.8Z", "circle", "circle", "circle", "circle", "circle", "circle", "circle", "circle", "circle", "circle"]},
              "legend": {"orient": "none", "legendX": 14, "legendY": 5, "columns": 6, "direction": "horizontal", "title": null,
                "labelExpr": "['ACO (SN143)','CAT (SN258)','IZO (SN080)','MAD (SN265)','PSA (SN260)','TOR (SN263)','ARN (SN261)','CIB (SN259)','IZO (SN262)','MAR (SN266)','SCO (SN085)','UC3 (SN264)','BCN (SN267)'][indexof(['ACO','CAT','IZ8','MAD','PSA','TOR','ARN','CIB','IZO','MAR','SCO','UC3','BCN'], datum.label)]"}},
            "order": {"field": "s", "type": "ordinal"}
          }}
      ]
    },
    {
      "width": 1960, "height": 321,
      "encoding": {
        "x": {"field": "t", "type": "temporal",
          "scale": {"type": "utc", "domain": [{"year": 2026, "month": 6, "date": 20, "hours": 6, "minutes": 50, "utc": true}, {"year": 2026, "month": 7, "date": 19, "hours": 3, "utc": true}]},
          "axis": {"labels": false, "title": null, "values": [{"year": 2026, "month": 6, "date": 21, "utc": true}, {"year": 2026, "month": 6, "date": 25, "utc": true}, {"year": 2026, "month": 6, "date": 29, "utc": true}, {"year": 2026, "month": 7, "date": 1, "utc": true}, {"year": 2026, "month": 7, "date": 5, "utc": true}, {"year": 2026, "month": 7, "date": 9, "utc": true}, {"year": 2026, "month": 7, "date": 13, "utc": true}, {"year": 2026, "month": 7, "date": 17, "utc": true}]}},
        "y": {"field": "c", "type": "quantitative", "scale": {"domain": [1.8776, 1.9935], "nice": false, "zero": false},
          "axis": {"title": "XCH4 (ppm)", "values": [1.88, 1.9, 1.92, 1.94, 1.96, 1.98], "format": ".2f"}}
      },
      "layer": [
        {"mark": {"type": "line", "strokeWidth": 6, "clip": true},
          "encoding": {
            "stroke": {"field": "s", "type": "nominal", "legend": null,
              "scale": {"domain": ["ACO", "CAT", "IZ8", "MAD", "PSA", "TOR", "ARN", "CIB", "IZO", "MAR", "SCO", "UC3", "BCN", "ZZZ"],
                "range": ["#1f77b4", "#d62728", "#8c564b", "#7f7f7f", "#17becf", "#800000", "#ff7f0e", "#9467bd", "#e377c2", "#bcbd22", "#004d40", "#000080", "#2ca02c", "#000000"]}},
            "detail": {"field": "t", "timeUnit": "utcmonthdate", "type": "ordinal"}
          }},
        {"mark": {"type": "point", "filled": true, "size": 36, "opacity": 1, "clip": true},
          "encoding": {
            "color": {"field": "s", "type": "nominal",
              "scale": {"domain": ["ACO", "CAT", "IZ8", "MAD", "PSA", "TOR", "ARN", "CIB", "IZO", "MAR", "SCO", "UC3", "BCN"],
                "range": ["#1f77b4", "#d62728", "#8c564b", "#7f7f7f", "#17becf", "#800000", "#ff7f0e", "#9467bd", "#e377c2", "#bcbd22", "#004d40", "#000080", "#2ca02c"]},
              "legend": {"orient": "none", "legendX": 14, "legendY": 5, "columns": 6, "direction": "horizontal", "title": null,
                "labelExpr": "['ACO (SN143)','CAT (SN258)','IZO (SN080)','MAD (SN265)','PSA (SN260)','TOR (SN263)','ARN (SN261)','CIB (SN259)','IZO (SN262)','MAR (SN266)','SCO (SN085)','UC3 (SN264)','BCN (SN267)'][indexof(['ACO','CAT','IZ8','MAD','PSA','TOR','ARN','CIB','IZO','MAR','SCO','UC3','BCN'], datum.label)]"}},
            "shape": {"field": "s", "type": "nominal",
              "scale": {"domain": ["ACO", "CAT", "IZ8", "MAD", "PSA", "TOR", "ARN", "CIB", "IZO", "MAR", "SCO", "UC3", "BCN"],
                "range": ["circle", "circle", "M-2,-1.8L-1.8,-2L2,1.8L1.8,2Z M1.8,-2L2,-1.8L-1.8,2L-2,1.8Z", "circle", "circle", "circle", "circle", "circle", "circle", "circle", "circle", "circle", "circle"]},
              "legend": {"orient": "none", "legendX": 14, "legendY": 5, "columns": 6, "direction": "horizontal", "title": null,
                "labelExpr": "['ACO (SN143)','CAT (SN258)','IZO (SN080)','MAD (SN265)','PSA (SN260)','TOR (SN263)','ARN (SN261)','CIB (SN259)','IZO (SN262)','MAR (SN266)','SCO (SN085)','UC3 (SN264)','BCN (SN267)'][indexof(['ACO','CAT','IZ8','MAD','PSA','TOR','ARN','CIB','IZO','MAR','SCO','UC3','BCN'], datum.label)]"}},
            "order": {"field": "s", "type": "ordinal"}
          }}
      ]
    },
    {
      "width": 1960, "height": 321,
      "encoding": {
        "x": {"field": "t", "type": "temporal",
          "scale": {"type": "utc", "domain": [{"year": 2026, "month": 6, "date": 20, "hours": 6, "minutes": 50, "utc": true}, {"year": 2026, "month": 7, "date": 19, "hours": 3, "utc": true}]},
          "axis": {"title": "Date (UTC)", "labelExpr": "utcFormat(datum.value, '%Y-%m-%d')", "titlePadding": 8, "values": [{"year": 2026, "month": 6, "date": 21, "utc": true}, {"year": 2026, "month": 6, "date": 25, "utc": true}, {"year": 2026, "month": 6, "date": 29, "utc": true}, {"year": 2026, "month": 7, "date": 1, "utc": true}, {"year": 2026, "month": 7, "date": 5, "utc": true}, {"year": 2026, "month": 7, "date": 9, "utc": true}, {"year": 2026, "month": 7, "date": 13, "utc": true}, {"year": 2026, "month": 7, "date": 17, "utc": true}]}},
        "y": {"field": "h", "type": "quantitative", "scale": {"domain": [140, 7440], "nice": false, "zero": false},
          "axis": {"title": "XH2O (ppm)", "values": [2000, 4000, 6000], "format": "d"}}
      },
      "layer": [
        {"mark": {"type": "line", "strokeWidth": 6, "clip": true},
          "encoding": {
            "stroke": {"field": "s", "type": "nominal", "legend": null,
              "scale": {"domain": ["ACO", "CAT", "IZ8", "MAD", "PSA", "TOR", "ARN", "CIB", "IZO", "MAR", "SCO", "UC3", "BCN", "ZZZ"],
                "range": ["#1f77b4", "#d62728", "#8c564b", "#7f7f7f", "#17becf", "#800000", "#ff7f0e", "#9467bd", "#e377c2", "#bcbd22", "#004d40", "#000080", "#2ca02c", "#000000"]}},
            "detail": {"field": "t", "timeUnit": "utcmonthdate", "type": "ordinal"}
          }},
        {"mark": {"type": "point", "filled": true, "size": 36, "opacity": 1, "clip": true},
          "encoding": {
            "color": {"field": "s", "type": "nominal",
              "scale": {"domain": ["ACO", "CAT", "IZ8", "MAD", "PSA", "TOR", "ARN", "CIB", "IZO", "MAR", "SCO", "UC3", "BCN"],
                "range": ["#1f77b4", "#d62728", "#8c564b", "#7f7f7f", "#17becf", "#800000", "#ff7f0e", "#9467bd", "#e377c2", "#bcbd22", "#004d40", "#000080", "#2ca02c"]},
              "legend": {"orient": "none", "legendX": 14, "legendY": 5, "columns": 6, "direction": "horizontal", "title": null,
                "labelExpr": "['ACO (SN143)','CAT (SN258)','IZO (SN080)','MAD (SN265)','PSA (SN260)','TOR (SN263)','ARN (SN261)','CIB (SN259)','IZO (SN262)','MAR (SN266)','SCO (SN085)','UC3 (SN264)','BCN (SN267)'][indexof(['ACO','CAT','IZ8','MAD','PSA','TOR','ARN','CIB','IZO','MAR','SCO','UC3','BCN'], datum.label)]"}},
            "shape": {"field": "s", "type": "nominal",
              "scale": {"domain": ["ACO", "CAT", "IZ8", "MAD", "PSA", "TOR", "ARN", "CIB", "IZO", "MAR", "SCO", "UC3", "BCN"],
                "range": ["circle", "circle", "M-2,-1.8L-1.8,-2L2,1.8L1.8,2Z M1.8,-2L2,-1.8L-1.8,2L-2,1.8Z", "circle", "circle", "circle", "circle", "circle", "circle", "circle", "circle", "circle", "circle"]},
              "legend": {"orient": "none", "legendX": 14, "legendY": 5, "columns": 6, "direction": "horizontal", "title": null,
                "labelExpr": "['ACO (SN143)','CAT (SN258)','IZO (SN080)','MAD (SN265)','PSA (SN260)','TOR (SN263)','ARN (SN261)','CIB (SN259)','IZO (SN262)','MAR (SN266)','SCO (SN085)','UC3 (SN264)','BCN (SN267)'][indexof(['ACO','CAT','IZ8','MAD','PSA','TOR','ARN','CIB','IZO','MAR','SCO','UC3','BCN'], datum.label)]"}},
            "order": {"field": "s", "type": "ordinal"}
          }}
      ]
    }
  ]
}
